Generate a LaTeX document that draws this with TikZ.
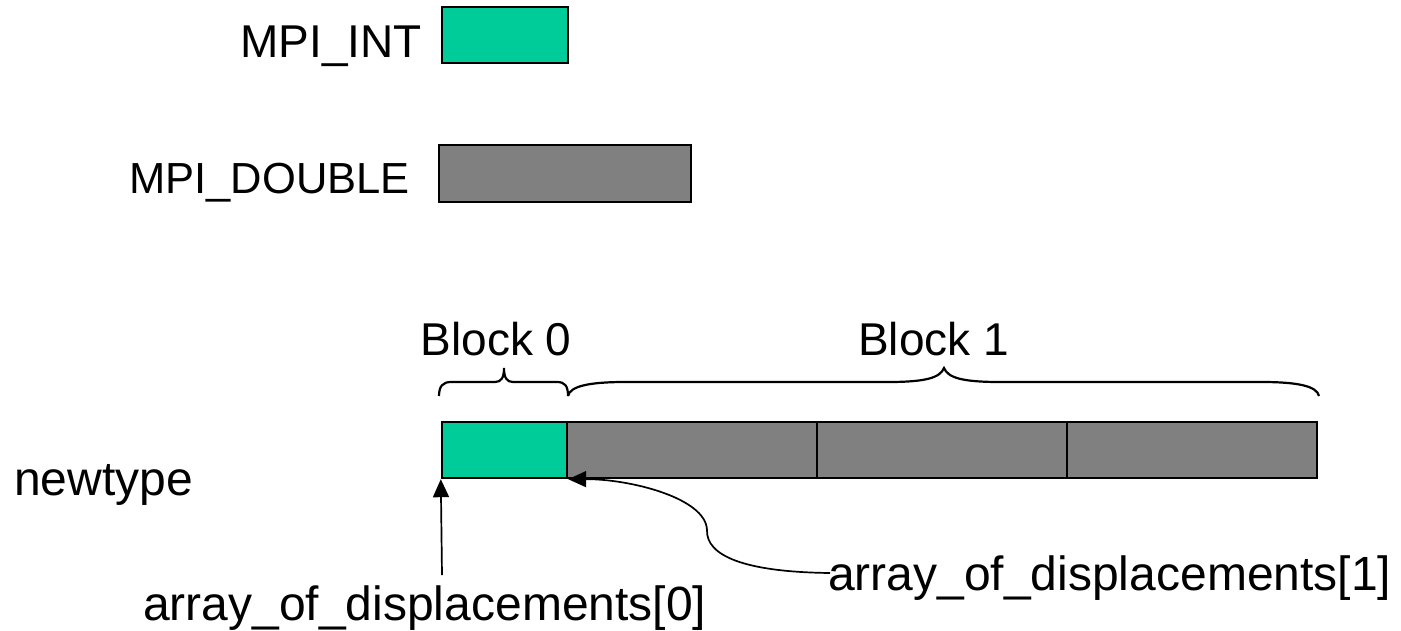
\documentclass[tikz,border=0pt]{standalone}
\usepackage{fontspec}
\setmainfont{Liberation Sans}
\usetikzlibrary{arrows.meta}
\definecolor{intgreen}{RGB}{0,204,153}
\definecolor{dblgray}{RGB}{128,128,128}
\tikzset{
  lbl/.style={inner sep=0pt, font=\fontsize{46}{50}\selectfont},
  lblw/.style={inner sep=0pt, font=\fontsize{48}{52}\selectfont},
  intcell/.style={draw=black, line width=2.4pt, fill=intgreen, inner sep=0pt,
                  minimum height=56pt},
  dblcell/.style={draw=black, line width=2.4pt, fill=dblgray, inner sep=0pt,
                  minimum height=56pt},
  bracepath/.style={draw=black, line width=2.2pt},
  arr/.style={draw=black, line width=1.7pt, -{Triangle[length=18pt,width=16pt]}}
}
\begin{document}
\begin{tikzpicture}[x=1pt, y=-1pt]
\useasboundingbox (0,0) rectangle (1401,630);

% basic types
\node[lbl, anchor=base east] (lint) at (422,57) {MPI\_INT};
\node[intcell, minimum width=126pt] (tint) at (505,35) {};
\node[lbl, anchor=base east, font=\fontsize{43.5}{48}\selectfont] (ldbl) at (410,193) {MPI\_DOUBLE};
\node[dblcell, minimum width=252pt, minimum height=57pt] (tdbl) at (565,173.5) {};

% the derived type
\node[lblw, anchor=base west] (lnew) at (14,495) {newtype};
\node[intcell, minimum width=125pt] (c0) at (504.5,450) {};
\node[dblcell, minimum width=250pt] (c1) at (692,450) {};
\node[dblcell, minimum width=250pt] (c2) at (942,450) {};
\node[dblcell, minimum width=250pt] (c3) at (1192,450) {};

% braces over the blocks
\node[lbl, anchor=base] (lb0) at (496,355) {Block 0};
\node[lbl, anchor=base west] (lb1) at (858,355) {Block 1};
\draw[bracepath] (439,396) .. controls (439,386) and (443,382) .. (451,382)
  -- (495,382) .. controls (501,382) and (504,378) .. (504,368)
  .. controls (504,378) and (507,382) .. (513,382)
  -- (557,382) .. controls (565,382) and (568,386) .. (568,396);
\draw[bracepath] (568,396) .. controls (570,386) and (590,382) .. (625,382)
  -- (888,382) .. controls (925,382) and (940,378) .. (944,368)
  .. controls (948,378) and (963,382) .. (1000,382)
  -- (1262,382) .. controls (1297,382) and (1317,386) .. (1319,396);

% displacement labels and arrows
\node[lblw, anchor=base west] (ld0) at (143,620) {array\_of\_displacements[0]};
\node[lblw, anchor=base west] (ld1) at (828,590) {array\_of\_displacements[1]};
\coordinate (a0) at (442,575);
\coordinate (a1) at (830,573);
\draw[arr] (a0) -- (c0.south west);
\draw[arr] (a1) .. controls (745,572) and (706,556) .. (707,530)
  .. controls (706,498) and (630,479) .. (c0.south east);
\end{tikzpicture}
\end{document}
